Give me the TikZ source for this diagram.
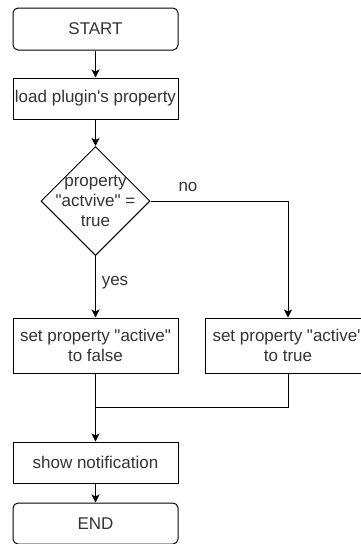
\documentclass[tikz,border=0pt]{standalone}
\usepackage{fontspec}
\newfontfamily\chartfont{Liberation Sans}
\usetikzlibrary{
    arrows.meta,
    positioning,
    shapes.geometric
}
\tikzset{
    chart/.style={font=\chartfont\fontsize{17}{20}\selectfont, text=black!80},
    block/.style={chart, draw=black, line width=1pt, minimum width=165pt,
        minimum height=41pt, inner sep=0pt, align=center},
    terminal/.style={block, rounded corners=5pt},
    decision/.style={draw=black, line width=1pt, diamond, aspect=1,
        minimum width=109pt, minimum height=109pt, inner sep=0pt},
    flowline/.style={line width=1pt, black},
    flowarrow/.style={flowline, -{Stealth[length=8pt, width=8pt, inset=2pt]}},
    note/.style={chart, inner sep=0pt, align=center}
}

\begin{document}
\begin{tikzpicture}[x=1pt, y=-1pt]
    \useasboundingbox (0,0) rectangle (361,544);
    \clip (0,0) rectangle (361,544);
    \node[terminal, minimum height=42pt] (start) at (95.5,29) {START};
    \node[block] (load) at (95.5,98.5) {load plugin's property};
    \node[decision] (check) at (95.5,201) {};
    \node[note] (checktext) at (check.center) {property\\"actvive" =\\true};
    \node[block, minimum height=55pt] (setfalse) at (95.5,345.5) {set property "active"\\to false};
    \node[block, minimum height=55pt] (settrue) at (288,345.5) {set property "active"\\to true};
    \node[block] (notify) at (95.5,462.5) {show notification};
    \node[terminal] (stop) at (95.5,523.5) {END};
    \coordinate (join) at (95.5,407);
    \draw[flowarrow] (start) -- (load);
    \draw[flowarrow] (load) -- (check);
    \draw[flowarrow] (check.east) -| (settrue.north);
    \draw[flowarrow] (check.south) -- (setfalse.north);
    \node[note] (nolabel) at (188,187) {no};
    \node[note] (yeslabel) at (115,283) {yes};
    \draw[flowarrow] (setfalse.south) -- (notify.north);
    \draw[flowline] (settrue.south) |- (join);
    \draw[flowarrow] (notify) -- (stop);
\end{tikzpicture}
\end{document}
